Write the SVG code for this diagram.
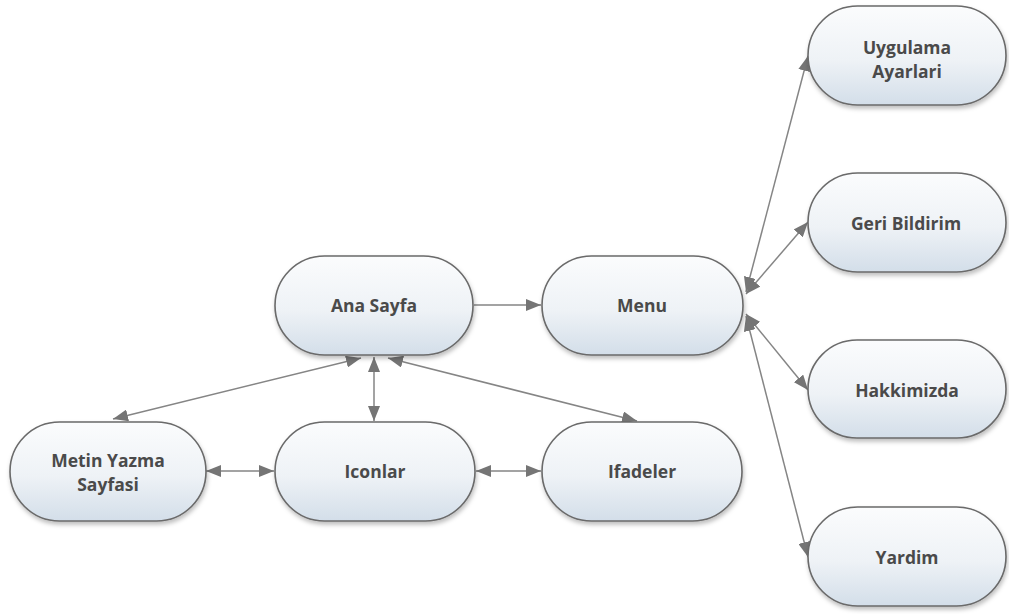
<svg xmlns="http://www.w3.org/2000/svg" width="1009" height="614" viewBox="0 0 1009 614">
<style>
.node rect{fill:url(#g);stroke:#6a6a6a;stroke-width:1.6;filter:url(#sh)}
.node text{font-family:"Open Sans","Noto Sans",sans-serif;font-weight:bold;font-size:17.5px;fill:#4a4a4a;text-anchor:middle}
.conn line{stroke:#858585;stroke-width:1.5;marker-end:url(#ah);marker-start:url(#ah)}
</style>
<defs>
<linearGradient id="g" x1="0" y1="0" x2="0" y2="1">
<stop offset="0" stop-color="#fbfcfd"/>
<stop offset="0.55" stop-color="#eef2f6"/>
<stop offset="1" stop-color="#d3dee9"/>
</linearGradient>
<filter id="sh" x="-10%" y="-10%" width="120%" height="130%">
<feDropShadow dx="1" dy="3" stdDeviation="2" flood-color="#000" flood-opacity="0.25"/>
</filter>
<marker id="ah" viewBox="0 0 15 12" refX="15" refY="6" markerWidth="15" markerHeight="12" markerUnits="userSpaceOnUse" orient="auto-start-reverse">
<path d="M0,0 L15,6 L0,12 Z" fill="#757575"/>
</marker>
<marker id="ae" viewBox="0 0 15 12" refX="15" refY="6" markerWidth="15" markerHeight="12" markerUnits="userSpaceOnUse" orient="auto">
<path d="M0,0 L15,6 L0,12 Z" fill="#757575"/>
</marker>
</defs>
<g id="connectors" class="conn">
<line x1="474" y1="305" x2="541" y2="305" style="marker-start:none" marker-end="url(#ae)"/>
<line x1="374" y1="357" x2="374" y2="421"/>
<line x1="361" y1="358" x2="113" y2="419"/>
<line x1="388" y1="358" x2="637" y2="421"/>
<line x1="206" y1="471" x2="274" y2="471"/>
<line x1="476" y1="471" x2="541" y2="471"/>
<line x1="746" y1="292" x2="808" y2="56"/>
<line x1="746" y1="294" x2="808" y2="222"/>
<line x1="746" y1="314" x2="808" y2="390"/>
<line x1="746" y1="316" x2="808" y2="557"/>
</g>
<g id="ana-sayfa" class="node"><rect x="275" y="256" width="198" height="99" rx="49.5"/><text x="374" y="312">Ana Sayfa</text></g>
<g id="menu" class="node"><rect x="542" y="256" width="201" height="99" rx="49.5"/><text x="642" y="312">Menu</text></g>
<g id="uygulama-ayarlari" class="node"><rect x="808" y="6" width="198" height="99" rx="49.5"/><text x="907" y="54">Uygulama</text><text x="907" y="78">Ayarlari</text></g>
<g id="geri-bildirim" class="node"><rect x="808" y="173" width="198" height="99" rx="49.5"/><text x="906" y="230">Geri Bildirim</text></g>
<g id="hakkimizda" class="node"><rect x="808" y="340" width="198" height="98" rx="49"/><text x="907" y="397">Hakkimizda</text></g>
<g id="yardim" class="node"><rect x="808" y="507" width="198" height="99" rx="49.5"/><text x="907" y="564">Yardim</text></g>
<g id="metin-yazma-sayfasi" class="node"><rect x="10" y="422" width="196" height="99" rx="49.5"/><text x="108" y="467">Metin Yazma</text><text x="108" y="491">Sayfasi</text></g>
<g id="iconlar" class="node"><rect x="275" y="422" width="200" height="99" rx="49.5"/><text x="375" y="478">Iconlar</text></g>
<g id="ifadeler" class="node"><rect x="542" y="422" width="200" height="99" rx="49.5"/><text x="642" y="478">Ifadeler</text></g>
</svg>
